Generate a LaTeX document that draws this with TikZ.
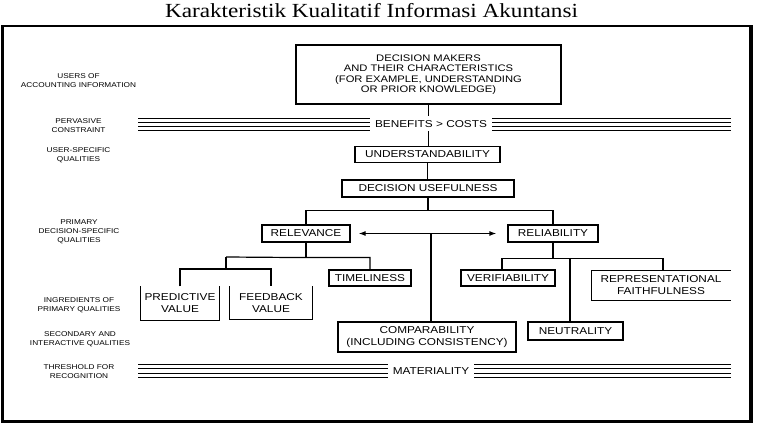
\documentclass[tikz,border=0pt]{standalone}
\usepackage{fontspec}
\usetikzlibrary{arrows.meta}
\newfontfamily\ttlfont[FakeStretch=1.16]{Liberation Serif}
\newfontfamily\bxfont[FakeStretch=1.18]{Liberation Sans}
\tikzset{
  box/.style={draw, line width=1.2pt, inner sep=0pt, align=center,
    font=\bxfont\fontsize{10}{12}\selectfont},
  openbox/.style={box, draw=none},
  lbl/.style={inner sep=0pt, align=center, font=\bxfont\fontsize{7}{9}\selectfont},
  conn/.style={line width=1.2pt},
  bandline/.style={line width=0.9pt},
  bandlbl/.style={fill=white, inner xsep=5pt, inner ysep=0pt, minimum height=15pt,
    font=\bxfont\fontsize{10}{12}\selectfont},
  tip/.style={{Latex[length=7pt,width=5pt]}-{Latex[length=7pt,width=5pt]}}
}
\begin{document}
\begin{tikzpicture}[x=1pt,y=-1pt]
\useasboundingbox (0,0) rectangle (759,427);

% title
\node[anchor=base, inner sep=0pt, font=\ttlfont\fontsize{20}{24}\selectfont] (title) at (371.5,17.5)
  {Karakteristik Kualitatif Informasi Akuntansi};

% frame
\draw[line width=1.6pt] (1,26) -- (752.5,26);
\draw[line width=3.5pt] (2.5,25.5) -- (2.5,423);
\draw[line width=3.2pt] (751,25.5) -- (751,423);
\draw[line width=3pt] (1,421.5) -- (752.5,421.5);

% left labels
\node[lbl] (l1) at (78.5,81) {USERS OF\\ACCOUNTING INFORMATION};
\node[lbl] (l2) at (78.5,125.5) {PERVASIVE\\CONSTRAINT};
\node[lbl] (l3) at (78.5,155.5) {USER-SPECIFIC\\QUALITIES};
\node[lbl] (l4) at (79,232) {PRIMARY\\DECISION-SPECIFIC\\QUALITIES};
\node[lbl] (l5) at (79,305) {INGREDIENTS OF\\PRIMARY QUALITIES};
\node[lbl] (l6) at (80,339.5) {SECONDARY AND\\INTERACTIVE QUALITIES};
\node[lbl] (l7) at (79,371.5) {THRESHOLD FOR\\RECOGNITION};

% boxes
\node[box, minimum width=265pt, minimum height=59pt,
  font=\bxfont\fontsize{9.5}{10.5}\selectfont] (dm) at (428.5,74.5)
  {DECISION MAKERS\\AND THEIR CHARACTERISTICS\\(FOR EXAMPLE, UNDERSTANDING\\OR PRIOR KNOWLEDGE)};
\node[box, minimum width=145pt, minimum height=15.5pt] (und) at (427.5,154.5) {UNDERSTANDABILITY};
\node[box, minimum width=172pt, minimum height=17pt] (du) at (428,188.5) {DECISION USEFULNESS};
\node[box, minimum width=88pt, minimum height=17pt] (rel) at (306,233.5) {RELEVANCE};
\node[box, minimum width=90pt, minimum height=17pt] (reli) at (553,233.5) {RELIABILITY};
\node[box, minimum width=82pt, minimum height=16pt] (time) at (370,278) {TIMELINESS};
\node[box, minimum width=94pt, minimum height=16pt] (verif) at (508,278) {VERIFIABILITY};
\node[openbox, minimum width=138pt, minimum height=29pt] (repr) at (661,285.5)
  {REPRESENTATIONAL\\FAITHFULNESS};
\node[openbox, minimum width=78pt, minimum height=33pt] (pred) at (180,303.5) {PREDICTIVE\\VALUE};
\node[openbox, minimum width=82pt, minimum height=32pt] (feed) at (271,303) {FEEDBACK\\VALUE};
\node[box, minimum width=178pt, minimum height=30pt] (comp) at (427,337)
  {COMPARABILITY\\(INCLUDING CONSISTENCY)};
\node[box, minimum width=95pt, minimum height=18pt] (neut) at (575.5,331) {NEUTRALITY};

% open-sided boxes
\draw[line width=1.2pt] (pred.north west) |- (pred.south east) -- (pred.north east);
\draw[line width=1.2pt] (feed.north west) |- (feed.south east) -- (feed.north east);
\draw[line width=1.2pt] (repr.south east) -| (repr.north west) -- (repr.north east);

% connectors
\draw[conn] (dm.south) -- (dm.south |- und.north);
\draw[conn] (und.south) -- (und.south |- du.north);
\draw[conn] (du.south) -- ++(0,13) coordinate (j1);
\draw[conn] (rel.north) |- (j1) -| (reli.north);
\draw[conn, tip] ([xshift=8pt]rel.east) -- ([xshift=-11pt]reli.west);
\coordinate (am) at (431,233.5);
\draw[conn] (am) -- (am |- comp.north);

\draw[conn] (rel.south) -- ++(0,15) coordinate (j2);
\coordinate (j3) at (226,257);
\coordinate (j4) at (226,269);
\draw[conn] (j3) -- (j2) -| (time.north);
\draw[line width=1.8pt] (j3) -- (j4);
\draw[conn] (pred.north) |- (j4) -| (feed.north);

\draw[conn] (reli.south) -- ++(0,16) coordinate (j5);
\draw[conn] ([xshift=-6pt]verif.north) |- (j5) -| ([xshift=2pt]repr.north);
\coordinate (j6) at (570,258);
\draw[conn] (j6) -- (j6 |- neut.north);

% bands
\coordinate (bL) at (138,124);
\coordinate (bR) at (731,124);
\foreach \d in {-6,-2,2,6} \draw[bandline] ([yshift=\d pt]bL) -- ([yshift=\d pt]bR);
\node[bandlbl] (ben) at (431,124) {BENEFITS > COSTS};

\coordinate (mL) at (138,371);
\coordinate (mR) at (731,371);
\foreach \d in {-6.5,-2.2,2.2,6.5} \draw[bandline] ([yshift=\d pt]mL) -- ([yshift=\d pt]mR);
\node[bandlbl] (mat) at (431,371) {MATERIALITY};
\end{tikzpicture}
\end{document}
